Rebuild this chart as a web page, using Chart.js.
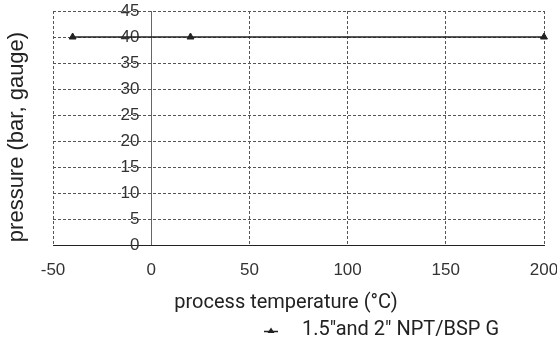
<!DOCTYPE html>
<html><head><meta charset="utf-8">
<script src="https://cdn.jsdelivr.net/npm/chart.js@4/dist/chart.umd.min.js"></script>
<style>html,body{margin:0;padding:0;background:#fff}#wrap{width:557px;height:350px}</style>
</head><body><div id="wrap"><canvas id="c" width="557" height="350"></canvas></div>
<script>
const temperatures = [-40, 20, 200];
const pressures = [40, 40, 40];
const xTickValues = [-50, 0, 50, 100, 150, 200];
const yTickValues = [0, 5, 10, 15, 20, 25, 30, 35, 40, 45];
const seriesLabel = '1.5\u2033and 2" NPT/BSP G';
const xTitle = 'process temperature (\u00B0C)';
const yTitle = 'pressure (bar, gauge)';

const INK = '#222';
const GRID = '#555';
const AXIS = '#666';
const tickFont = {family: '"Liberation Sans", Arial, sans-serif', size: 17};
const condFont = {family: 'Roboto, "Liberation Sans Narrow", sans-serif', size: 20, weight: 'normal'};

function makeMarker() {
  const c = document.createElement('canvas');
  c.width = 14; c.height = 10;
  const g = c.getContext('2d');
  g.strokeStyle = INK; g.lineWidth = 1.5;
  g.beginPath(); g.moveTo(0, 6.5); g.lineTo(14, 6.5); g.stroke();
  g.fillStyle = INK;
  g.beginPath(); g.moveTo(7, 2.5); g.lineTo(10.5, 8); g.lineTo(3.5, 8); g.closePath(); g.fill();
  return c;
}
const marker = makeMarker();

const layoutTweaks = {
  id: 'layoutTweaks',
  afterLayout(chart) {
    const yt = chart.scales.yt;
    if (yt) { yt.top = chart.chartArea.top + 18; }
    const tb = chart.titleBlock;
    if (tb) { tb.left = 15; tb.right = 557; }
    const lg = chart.legend;
    if (lg) { lg.left = 245; lg.right = 557; }
  }
};

const transparent = 'rgba(0,0,0,0)';
const isZero = ctx => ctx.tick && ctx.tick.value === 0;

new Chart(document.getElementById('c'), {
  type: 'line',
  data: {
    datasets: [{
      label: seriesLabel,
      data: temperatures.map((t, i) => ({x: t, y: pressures[i]})),
      borderColor: INK,
      backgroundColor: INK,
      borderWidth: 1.5,
      pointStyle: 'triangle',
      pointRadius: 4,
      pointBorderWidth: 1,
      tension: 0,
      clip: false,
      xAxisID: 'x',
      yAxisID: 'y'
    }]
  },
  options: {
    responsive: false,
    animation: false,
    layout: {padding: {top: 11, right: 13, left: 0, bottom: 0}},
    scales: {
      x: {
        type: 'linear', position: 'bottom', min: -50, max: 200,
        afterBuildTicks: s => { s.ticks = xTickValues.map(v => ({value: v})); },
        afterFit: s => { s.height = 38; s.paddingLeft = 0; s.paddingRight = 0; },
        grid: {drawTicks: false, lineWidth: 1,
          color: ctx => isZero(ctx) ? AXIS : GRID},
        border: {display: true, color: INK, width: 1,
          dash: ctx => isZero(ctx) ? [] : [3, 2]},
        ticks: {padding: 15, color: '#333', font: tickFont, maxRotation: 0}
      },
      y: {
        type: 'linear', position: {x: -6}, min: 0, max: 45,
        afterBuildTicks: s => { s.ticks = yTickValues.map(v => ({value: v})); },
        afterFit: s => { s.width = 0; s.paddingTop = 0; s.paddingBottom = 0; },
        grid: {drawTicks: false, lineWidth: 1,
          color: ctx => isZero(ctx) ? transparent : GRID},
        border: {display: false, dash: [3, 2]},
        ticks: {padding: 0, color: '#333', font: tickFont}
      },
      yt: {
        type: 'linear', position: 'left', display: true,
        afterFit: s => { s.width = 53; },
        grid: {display: false, drawTicks: false},
        border: {display: false},
        ticks: {display: false},
        title: {display: true, text: yTitle, color: INK,
          font: {family: '"Liberation Sans", Arial, sans-serif', size: 22},
          padding: {top: 4, bottom: 0}}
      }
    },
    plugins: {
      title: {
        display: true, text: xTitle, position: 'bottom', weight: 500,
        color: INK, font: condFont, padding: {top: 8, bottom: 0}
      },
      legend: {
        display: true, position: 'bottom', align: 'start',
        labels: {
          usePointStyle: true, pointStyleWidth: 42, padding: 5,
          color: INK, font: condFont,
          generateLabels: chart => chart.data.datasets.map((ds, i) => ({
            text: ds.label, pointStyle: marker, fillStyle: INK, strokeStyle: INK,
            lineWidth: 0, hidden: false, datasetIndex: i, fontColor: INK
          }))
        }
      },
      tooltip: {enabled: false}
    }
  },
  plugins: [layoutTweaks]
});
</script></body></html>
